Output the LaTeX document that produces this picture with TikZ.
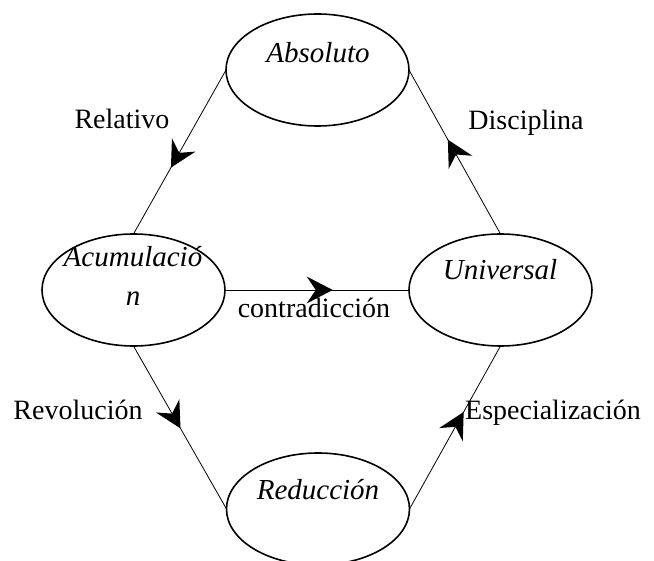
\documentclass[tikz,border=0pt]{standalone}
\usepackage{fontspec}
\setmainfont{Liberation Serif}
\usetikzlibrary{shapes.geometric,decorations.markings,calc}

\begin{document}
\begin{tikzpicture}[x=1pt,y=-1pt,
  stage/.style={draw,ellipse,line width=1.6pt,minimum width=183pt,minimum height=112pt,inner sep=0pt,outer sep=0pt},
  stagename/.style={font=\fontsize{29}{39}\selectfont\itshape,inner sep=0pt,anchor=base},
  edgelabel/.style={font=\fontsize{28}{32}\selectfont,inner sep=0pt,anchor=base},
  flow/.style={line width=0.8pt,postaction={decorate},
    decoration={markings,mark=at position #1 with {
      \fill (1,0) -- (-25,13.5) -- (-16,0) -- (-25,-13.5) -- cycle;}}},
]
\useasboundingbox (0,0) rectangle (654,561);
\clip (0,0) rectangle (654,561);

% the four stages
\node[stage] (abs) at (317.5,70) {};
\node[stage] (acu) at (133.5,290) {};
\node[stage] (uni) at (500.5,290) {};
\node[stage] (red) at (318,509) {};

\node[stagename] (absT) at (318,63) {Absoluto};
\node[stagename] (uniT) at (500,280) {Universal};
\node[stagename] (redT) at (318,500) {Reducción};
\node[font=\fontsize{29}{39}\selectfont\itshape,inner sep=0pt,align=center] (acuT) at (133,276) {Acumulació\\n};

% transitions
\draw[flow=0.59] (abs.west) -- (acu.north);
\draw[flow=0.57] (uni.north) -- (abs.east);
\draw[flow=0.58] (acu.east) -- (uni.west);
\draw[flow=0.50] (acu.south) -- (red.west);
\draw[flow=0.59] (red.east) -- (uni.south);

% transition labels
\node[edgelabel] (lrel) at (122,129) {Relativo};
\node[edgelabel] (ldis) at (526,130) {Disciplina};
\node[edgelabel] (lcon) at (314,318) {contradicción};
\node[edgelabel] (lrev) at (78,420) {Revolución};
\node[edgelabel] (lesp) at (553,420) {Especialización};
\end{tikzpicture}
\end{document}
